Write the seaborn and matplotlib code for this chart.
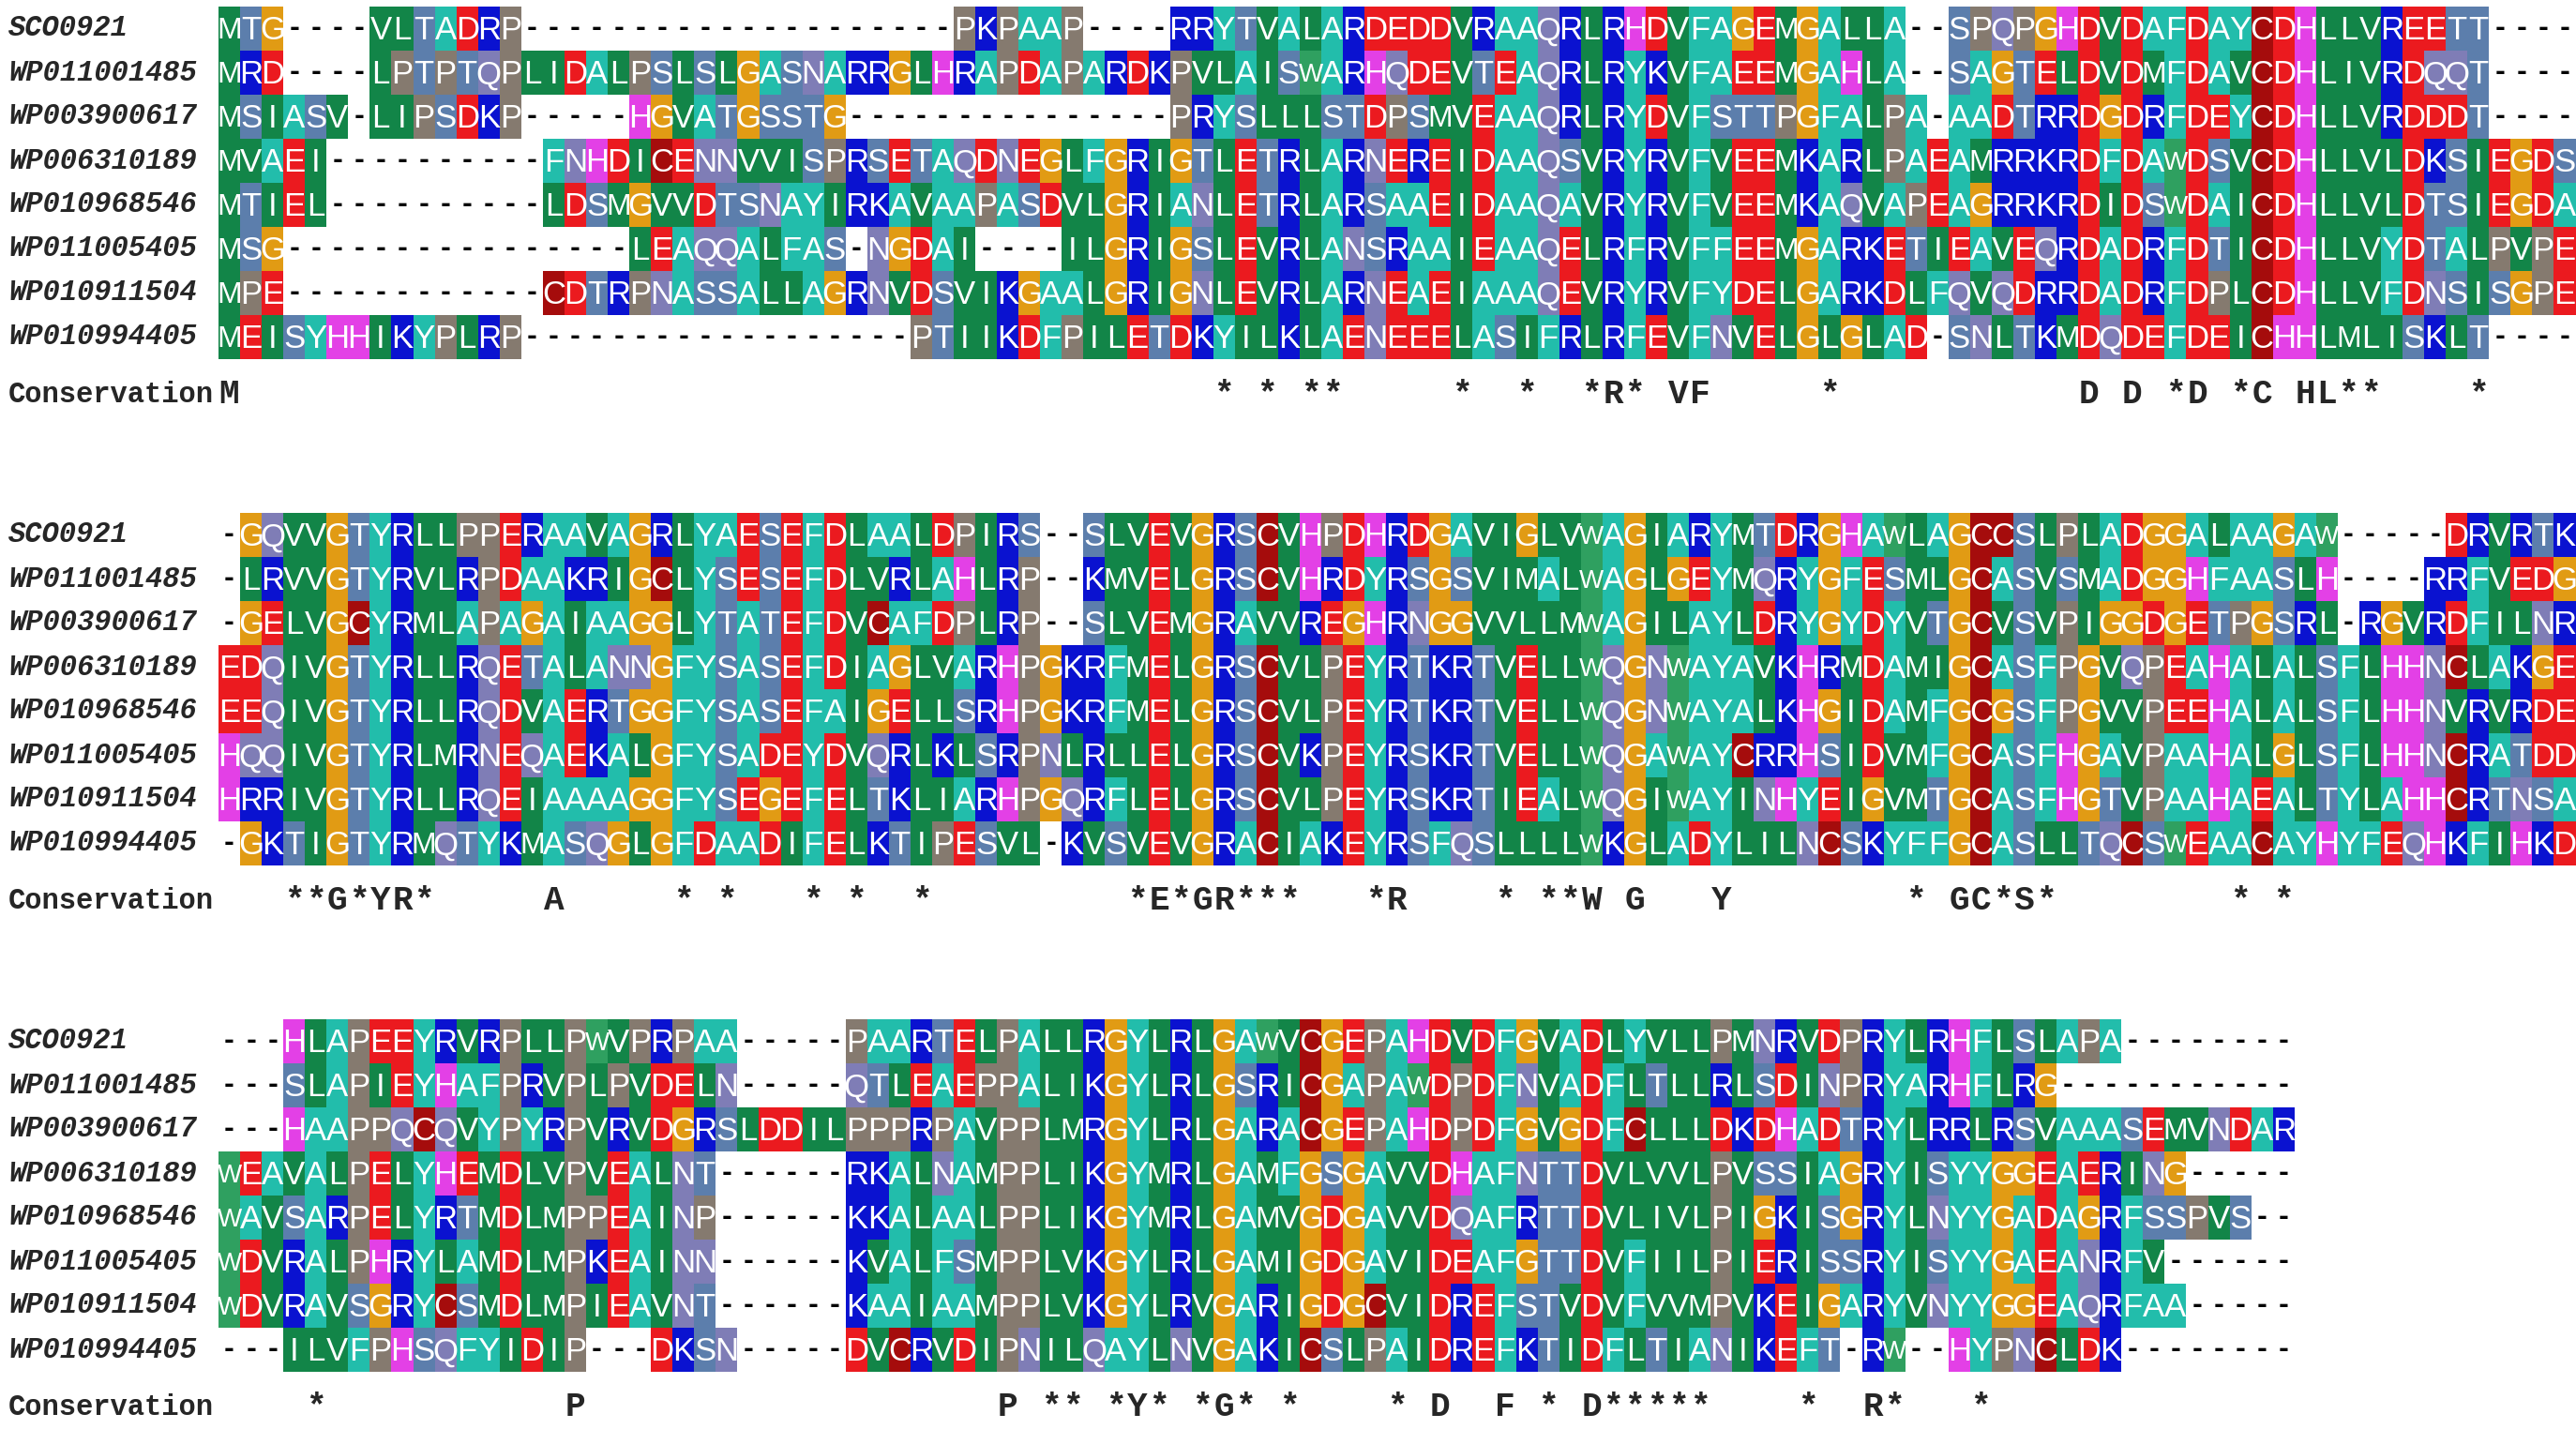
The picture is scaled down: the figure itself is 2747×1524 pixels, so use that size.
import matplotlib
matplotlib.use('Agg')
import pandas as pd
import matplotlib.pyplot as plt
from matplotlib.colors import ListedColormap
import seaborn as sns

names = ['SCO0921', 'WP011001485', 'WP003900617', 'WP006310189',
         'WP010968546', 'WP011005405', 'WP010911504', 'WP010994405']

block1 = [
    'MTG----VLTADRP--------------------PKPAAP----RRYTVALARDEDDVRAAQRLRHDVFAGEMGALLA--SPQPGHDVDAFDAYCDHLLVREETT----',
    'MRD----LPTPTQPLIDALPSLSLGASNARRGLHRAPDAPARDKPVLAISWARHQDEVTEAQRLRYKVFAEEMGAHLA--SAGTELDVDMFDAVCDHLIVRDQQT----',
    'MSIASV-LIPSDKP-----HGVATGSSTG---------------PRYSLLLSTDPSMVEAAQRLRYDVFSTTPGFALPA-AADTRRDGDRFDEYCDHLLVRDDDT----',
    'MVAEI----------FNHDICENNVVISPRSETAQDNEGLFGRIGTLETRLARNEREIDAAQSVRYRVFVEEMKARLPAEAMRRKRDFDAWDSVCDHLLVLDKSIEGDS',
    'MTIEL----------LDSMGVVDTSNAYIRKAVAAPASDVLGRIANLETRLARSAAEIDAAQAVRYRVFVEEMKAQVAPEAGRRKRDIDSWDAICDHLLVLDTSIEGDA',
    'MSG----------------LEAQQALFAS-NGDAI----ILGRIGSLEVRLANSRAAIEAAQELRFRVFFEEMGARKETIEAVEQRDADRFDTICDHLLVYDTALPVPE',
    'MPE------------CDTRPNASSALLAGRNVDSVIKGAALGRIGNLEVRLARNEAEIAAAQEVRYRVFYDELGARKDLFQVQDRRDADRFDPLCDHLLVFDNSISGPE',
    'MEISYHHIKYPLRP------------------PTIIKDFPILETDKYILKLAENEEELASIFRLRFEVFNVELGLGLAD-SNLTKMDQDEFDEICHHLMLISKLT----',
]
block2 = [
    '-GQVVGTYRLLPPERAAVAGRLYAESEFDLAALDPIRS--SLVEVGRSCVHPDHRDGAVIGLVWAGIARYMTDRGHAWLAGCCSLPLADGGALAAGAW-----DRVRTK',
    '-LRVVGTYRVLRPDAAKRIGCLYSESEFDLVRLAHLRP--KMVELGRSCVHRDYRSGSVIMALWAGLGEYMQRYGFESMLGCASVSMADGGHFAASLH----RRFVEDG',
    '-GELVGCYRMLAPAGAIAAGGLYTATEFDVCAFDPLRP--SLVEMGRAVVREGHRNGGVVLLMWAGILAYLDRYGYDYVTGCVSVPIGGDGETPGSRL-RGVRDFILNR',
    'EDQIVGTYRLLRQETALANNGFYSASEFDIAGLVARHPGKRFMELGRSCVLPEYRTKRTVELLWQGNWAYAVKHRMDAMIGCASFPGVQPEAHALALSFLHHNCLAKGE',
    'EEQIVGTYRLLRQDVAERTGGFYSASEFAIGELLSRHPGKRFMELGRSCVLPEYRTKRTVELLWQGNWAYALKHGIDAMFGCGSFPGVVPEEHALALSFLHHNVRVRDE',
    'HQQIVGTYRLMRNEQAEKALGFYSADEYDVQRLKLSRPNLRLLELGRSCVKPEYRSKRTVELLWQGAWAYCRRHSIDVMFGCASFHGAVPAAHALGLSFLHHNCRATDD',
    'HRRIVGTYRLLRQEIAAAAGGFYSEGEFELTKLIARHPGQRFLELGRSCVLPEYRSKRTIEALWQGIWAYINHYEIGVMTGCASFHGTVPAAHAEALTYLAHHCRTNSA',
    '-GKTIGTYRMQTYKMASQGLGFDAADIFELKTIPESVL-KVSVEVGRACIAKEYRSFQSLLLLWKGLADYLILNCSKYFFGCASLLTQCSWEAACAYHYFEQHKFIHKD',
]
block3 = [
    '---HLAPEEYRVRPLLPWVPRPAA-----PAARTELPALLRGYLRLGAWVCGEPAHDVDFGVADLYVLLPMNRVDPRYLRHFLSLAPA--------',
    '---SLAPIEYHAFPRVPLPVDELN-----QTLEAEPPALIKGYLRLGSRICGAPAWDPDFNVADFLTLLRLSDINPRYARHFLRG-----------',
    '---HAAPPQCQVYPYRPVRVDGRSLDDILPPPRPAVPPLMRGYLRLGARACGEPAHDPDFGVGDFCLLLDKDHADTRYLRRLRSVAAASEMVNDAR',
    'WEAVALPELYHEMDLVPVEALNT------RKALNAMPPLIKGYMRLGAMFGSGAVVDHAFNTTDVLVVLPVSSIAGRYISYYGGEAERING-----',
    'WAVSARPELYRTMDLMPPEAINP------KKALAALPPLIKGYMRLGAMVGDGAVVDQAFRTTDVLIVLPIGKISGRYLNYYGADAGRFSSPVS--',
    'WDVRALPHRYLAMDLMPKEAINN------KVALFSMPPLVKGYLRLGAMIGDGAVIDEAFGTTDVFIILPIERISSRYISYYGAEANRFV------',
    'WDVRAVSGRYCSMDLMPIEAVNT------KAAIAAMPPLVKGYLRVGARIGDGCVIDREFSTVDVFVVMPVKEIGARYVNYYGGEAQRFAA-----',
    '---ILVFPHSQFYIDIP---DKSN-----DVCRVDIPNILQAYLNVGAKICSLPAIDREFKTIDFLTIANIKEFT-RW--HYPNCLDK--------',
]

# conservation marks: (column, symbol)
cons1 = [(0, 'M'), (46, '*'), (48, '*'), (50, '*'), (51, '*'), (57, '*'), (60, '*'),
         (63, '*'), (64, 'R'), (65, '*'), (67, 'V'), (68, 'F'), (74, '*'), (86, 'D'),
         (88, 'D'), (90, '*'), (91, 'D'), (93, '*'), (94, 'C'), (96, 'H'), (97, 'L'),
         (98, '*'), (99, '*'), (104, '*')]
cons2 = [(3, '*'), (4, '*'), (5, 'G'), (6, '*'), (7, 'Y'), (8, 'R'), (9, '*'), (15, 'A'),
         (21, '*'), (23, '*'), (27, '*'), (29, '*'), (32, '*'), (42, '*'), (43, 'E'),
         (44, '*'), (45, 'G'), (46, 'R'), (47, '*'), (48, '*'), (49, '*'), (53, '*'),
         (54, 'R'), (59, '*'), (61, '*'), (62, '*'), (63, 'W'), (65, 'G'), (69, 'Y'),
         (78, '*'), (80, 'G'), (81, 'C'), (82, '*'), (83, 'S'), (84, '*'), (93, '*'), (95, '*')]
cons3 = [(4, '*'), (16, 'P'), (36, 'P'), (38, '*'), (39, '*'), (41, '*'), (42, 'Y'),
         (43, '*'), (45, '*'), (46, 'G'), (47, '*'), (49, '*'), (54, '*'), (56, 'D'),
         (59, 'F'), (61, '*'), (63, 'D'), (64, '*'), (65, '*'), (66, '*'), (67, '*'),
         (68, '*'), (73, '*'), (76, 'R'), (77, '*'), (81, '*')]

residue_colors = {
    '-': '#FFFFFF',
    'L': '#128548', 'I': '#128548', 'V': '#128548', 'M': '#128548',
    'W': '#2FA060',
    'A': '#22BDAB', 'F': '#22BDAB', 'Y': '#22BDAB',
    'S': '#5C7EAC', 'T': '#5C7EAC',
    'N': '#7F7DB6', 'Q': '#7F7DB6',
    'D': '#EB1A1F', 'E': '#EB1A1F',
    'K': '#0A12D0', 'R': '#0A12D0',
    'H': '#E340E6',
    'C': '#A50C0C',
    'G': '#E19B14',
    'P': '#857A6F',
}

sns.set_style('white')

res_order = list(residue_colors)
cmap = ListedColormap([residue_colors[r] for r in res_order])

W, H = 2747, 1524
cell_w, cell_h = 23.06, 47
x0 = 233
letter_font = ['Liberation Sans Narrow', 'Liberation Sans', 'DejaVu Sans']
mono_font = ['Liberation Mono', 'DejaVu Sans Mono']
# wide glyphs get a smaller size so they stay inside their cell
letter_size = {'M': 23, 'W': 20}

fig = plt.figure(figsize=(W / 100, H / 100), dpi=100)

for b, (rows, cons) in enumerate(zip([block1, block2, block3], [cons1, cons2, cons3])):
    ncol = len(rows[0])
    top = 7 + 540 * b
    ax = fig.add_axes([x0 / W, 1 - (top + 8 * cell_h) / H, ncol * cell_w / W, 8 * cell_h / H])
    codes = pd.DataFrame([[res_order.index(c) for c in r] for r in rows], index=names)
    sns.heatmap(codes, ax=ax, cmap=cmap, vmin=-0.5, vmax=len(res_order) - 0.5,
                cbar=False, xticklabels=False, yticklabels=False, linewidths=0)
    ax.set_xticks([])
    ax.set_yticks([])
    for s in ax.spines.values():
        s.set_visible(False)

    for i, r in enumerate(rows):
        for j, ch in enumerate(r):
            if ch == '-':
                ax.text(j + 0.5, i + 0.52, '-', color='black', fontsize=19, fontweight='bold',
                        family='DejaVu Sans', ha='center', va='center')
            else:
                ax.text(j + 0.5, i + 0.55, ch, color='white', fontsize=letter_size.get(ch, 25),
                        family=letter_font, ha='center', va='center')
        ax.text((9 - x0) / cell_w, i + 0.5, names[i], fontsize=22, family=mono_font,
                style='italic', fontweight='bold', ha='left', va='center', clip_on=False)

    ax.text((9 - x0) / cell_w, 8.8, 'Conservation', fontsize=22, family=mono_font,
            fontweight='bold', ha='left', va='center', clip_on=False)
    for col, sym in cons:
        ax.text(col + 0.5, 8.8, sym, fontsize=26, family=mono_font, fontweight='bold',
                ha='center', va='center', clip_on=False)

fig.savefig('out.png', dpi=100)
